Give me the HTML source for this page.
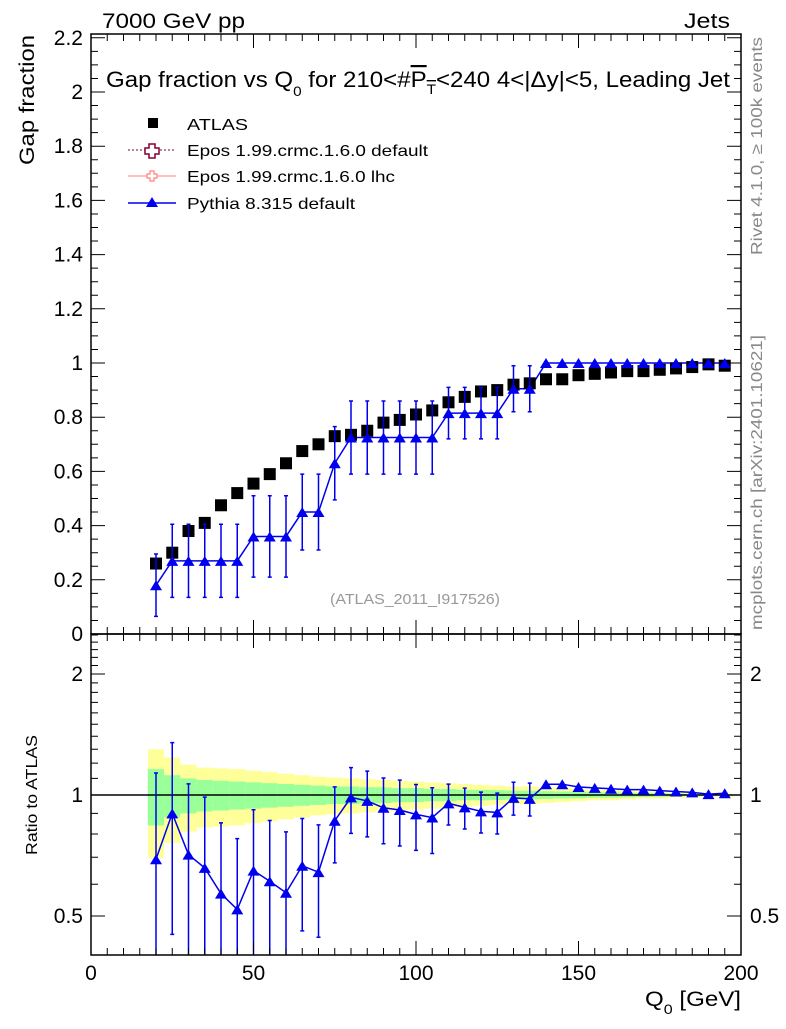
<!DOCTYPE html>
<html><head><meta charset="utf-8"><style>
body{margin:0;background:#fff;}
svg text{font-family:"Liberation Sans",sans-serif;}
</style></head><body>
<svg id="c" width="786" height="1024" viewBox="0 0 786 1024" xmlns="http://www.w3.org/2000/svg">
<g id="bands"></g>
<g id="marks"></g>
<g id="axes"></g>
<text x="102" y="28" font-size="21" textLength="143" lengthAdjust="spacingAndGlyphs">7000 GeV pp</text>
<text x="684" y="28" font-size="21" textLength="46" lengthAdjust="spacingAndGlyphs">Jets</text>
<text x="106" y="87" font-size="22" textLength="624" lengthAdjust="spacingAndGlyphs">Gap fraction vs Q<tspan font-size="14" dy="9">0</tspan><tspan dy="-9"> for 210&lt;#</tspan><tspan text-decoration="overline">P<tspan font-size="14" dy="7">T</tspan></tspan><tspan dy="-7">&lt;240  4&lt;|Δy|&lt;5, Leading Jet</tspan></text>
<g font-size="16">
<rect x="148" y="118" width="10" height="10" fill="#000"/>
<text x="187" y="130" textLength="61" lengthAdjust="spacingAndGlyphs">ATLAS</text>
<line x1="128" y1="150" x2="176" y2="150" stroke="#800030" stroke-dasharray="2,2"/>
<path d="M149 144h6v4h4v6h-4v4h-6v-4h-4v-6h4z" fill="#fff" stroke="#800030" stroke-width="1.5"/>
<text x="187" y="156" textLength="241" lengthAdjust="spacingAndGlyphs">Epos 1.99.crmc.1.6.0 default</text>
<line x1="128" y1="176" x2="176" y2="176" stroke="#ff8080"/>
<path d="M150 171h4v3h3v4h-3v3h-4v-3h-3v-4h3z" fill="#fff" stroke="#ff8080" stroke-width="1.2"/>
<text x="187" y="182" textLength="208" lengthAdjust="spacingAndGlyphs">Epos 1.99.crmc.1.6.0 lhc</text>
<line x1="128" y1="203" x2="176" y2="203" stroke="#0000ee" stroke-width="1.5"/>
<path d="M152 197l6 10h-12z" fill="#0000ee"/>
<text x="187" y="209" textLength="168" lengthAdjust="spacingAndGlyphs">Pythia 8.315 default</text>
</g>
<text x="330" y="604" font-size="15" fill="#999" textLength="170" lengthAdjust="spacingAndGlyphs">(ATLAS_2011_I917526)</text>
<text transform="translate(34,165) rotate(-90)" font-size="21" textLength="130" lengthAdjust="spacingAndGlyphs">Gap fraction</text>
<text transform="translate(37,855) rotate(-90)" font-size="16" textLength="120" lengthAdjust="spacingAndGlyphs">Ratio to ATLAS</text>
<text x="645" y="1006" font-size="21" textLength="96" lengthAdjust="spacingAndGlyphs">Q<tspan font-size="14" dy="8">0</tspan><tspan dy="-8"> [GeV]</tspan></text>
<text transform="translate(762,255) rotate(-90)" font-size="16" fill="#888" textLength="218" lengthAdjust="spacingAndGlyphs">Rivet 4.1.0, ≥ 100k events</text>
<text transform="translate(762,630) rotate(-90)" font-size="16" fill="#888" textLength="295" lengthAdjust="spacingAndGlyphs">mcplots.cern.ch [arXiv:2401.10621]</text>
</svg>
<script>
const xs=[20,25,30,35,40,45,50,55,60,65,70,75,80,85,90,95,100,105,110,115,120,125,130,135,140,145,150,155,160,165,170,175,180,185,190,195];
const atlas=[0.26,0.30,0.38,0.41,0.475,0.52,0.555,0.59,0.63,0.675,0.70,0.73,0.735,0.75,0.78,0.79,0.81,0.825,0.855,0.875,0.895,0.90,0.92,0.925,0.94,0.94,0.955,0.96,0.965,0.97,0.97,0.975,0.98,0.985,0.995,0.99];
const pythia=[0.18,0.27,0.27,0.27,0.27,0.27,0.36,0.36,0.36,0.45,0.45,0.63,0.725,0.725,0.725,0.725,0.725,0.725,0.815,0.815,0.815,0.815,0.905,0.905,1,1,1,1,1,1,1,1,1,1,1,1];
const pythiaErr=[0.115,0.135,0.135,0.135,0.135,0.135,0.15,0.15,0.15,0.14,0.14,0.135,0.135,0.135,0.135,0.135,0.135,0.135,0.095,0.095,0.095,0.095,0.085,0.085,0,0,0,0,0,0,0,0,0,0,0,0];
const yellowRel=[0.30,0.24,0.19,0.17,0.165,0.16,0.15,0.14,0.13,0.12,0.11,0.105,0.10,0.095,0.09,0.085,0.08,0.075,0.07,0.065,0.06,0.055,0.05,0.05,0.045,0.04,0.035,0.03,0.03,0.025,0.02,0.02,0.015,0.012,0.01,0.008];
const greenRel=[0.16,0.12,0.10,0.09,0.085,0.08,0.075,0.07,0.065,0.06,0.055,0.05,0.05,0.045,0.045,0.04,0.04,0.035,0.035,0.03,0.03,0.028,0.025,0.025,0.022,0.02,0.018,0.016,0.015,0.013,0.011,0.01,0.008,0.006,0.005,0.004];
const xTicks=[0,50,100,150,200];
const yTicks=[0,0.2,0.4,0.6,0.8,1,1.2,1.4,1.6,1.8,2,2.2];
const rTicks=[0.5,1,2];
const NS='http://www.w3.org/2000/svg';
const X=v=>91+v*3.25;
const Y=v=>634-v*271;
const R=v=>795-174.6*Math.log(v);
const RT=633,RB=955;
function el(p,t,a){const e=document.createElementNS(NS,t);for(const k in a)e.setAttribute(k,a[k]);p.appendChild(e);return e;}
const bands=document.getElementById('bands'),marks=document.getElementById('marks'),axes=document.getElementById('axes');
xs.forEach((x,i)=>{
 let e=el(bands,'rect',{x:X(x-2.5),width:3.25*5,y:R(1+yellowRel[i]),height:R(1-yellowRel[i])-R(1+yellowRel[i]),fill:'#ffff99'});
 
 
 e=el(bands,'rect',{x:X(x-2.5),width:3.25*5,y:R(1+greenRel[i]),height:R(1-greenRel[i])-R(1+greenRel[i]),fill:'#99ff99'});
 
 
});
let l1=el(marks,'line',{x1:91,x2:741,y1:R(1),y2:R(1),stroke:'#000','stroke-width':1.5});


const cl=(v,a,b)=>Math.max(a,Math.min(b,v));
function tri(p,cx,cy,name){const e=el(p,'path',{d:`M${cx} ${cy-6}l6 10h-12z`,fill:'#0000ee'});}
let pts=xs.map((x,i)=>X(x)+','+Y(pythia[i])).join(' ');
let pl=el(marks,'polyline',{points:pts,fill:'none',stroke:'#0000ee','stroke-width':1.5});


let rpts=xs.map((x,i)=>X(x)+','+cl(R(pythia[i]/atlas[i]),RT,RB)).join(' ');
let rl=el(marks,'polyline',{points:rpts,fill:'none',stroke:'#0000ee','stroke-width':1.5});


xs.forEach((x,i)=>{
 const cx=X(x);
 const s=el(marks,'rect',{x:cx-6,y:Y(atlas[i])-6,width:12,height:12,fill:'#000'});
 
 
 if(pythiaErr[i]>0){
  const t=Y(pythia[i]+pythiaErr[i]),b=Y(pythia[i]-pythiaErr[i]);
  const e=el(marks,'path',{d:`M${cx} ${t}V${b}M${cx-2} ${t}h4M${cx-2} ${b}h4`,stroke:'#0000ee','stroke-width':1.5,fill:'none'});
  
  
  const rt=R((pythia[i]+pythiaErr[i])/atlas[i]),rbv=(pythia[i]-pythiaErr[i])/atlas[i];
  const rb=rbv>0?cl(R(rbv),RT,RB):RB;
  const e2=el(marks,'path',{d:`M${cx} ${rt}V${rb}M${cx-2} ${rt}h4`+(rb<RB?`M${cx-2} ${rb}h4`:''),stroke:'#0000ee','stroke-width':1.5,fill:'none'});
  
  
 }
 tri(marks,cx,Y(pythia[i])+1,'pythia-point');
 tri(marks,cx,R(pythia[i]/atlas[i])+1,'pythia-ratio-point');
});
let f1=el(axes,'rect',{x:91,y:34,width:650,height:600,fill:'none',stroke:'#000','stroke-width':1.5});


let f2=el(axes,'rect',{x:91,y:634,width:650,height:321,fill:'none',stroke:'#000','stroke-width':1.5});


let d='';
for(let v=0;v<=200;v+=5){const L=v%50===0?14:7;const x=X(v);d+=`M${x} 955v-${L}M${x} 634v-${L}M${x} 34v${L}M${x} 634v${L}`;}
for(let k=0;k<=44;k++){const v=k*0.05;const L=(k%4===0)?14:7;const y=Y(v);d+=`M91 ${y}h${L}M741 ${y}h-${L}`;}
[0.4,0.5,0.6,0.7,0.8,0.9,1,1.1,1.2,1.3,1.4,1.5,1.6,1.7,1.8,1.9,2,2.1,2.2,2.3,2.4,2.5].forEach(v=>{const y=R(v);const L=(v===0.5||v===1||v===2)?14:7;d+=`M91 ${y}h${L}M741 ${y}h-${L}`;});
let tk=el(axes,'path',{d:d,stroke:'#000','stroke-width':1,fill:'none'});


xTicks.forEach(v=>{const t=el(axes,'text',{x:X(v),y:980,'font-size':21,'text-anchor':'middle'});t.textContent=v;
 
 });
yTicks.forEach(v=>{const t=el(axes,'text',{x:83,y:Y(v)+7,'font-size':21,'text-anchor':'end'});t.textContent=String(Math.round(v*10)/10);
 
 });
rTicks.forEach(v=>{const t=el(axes,'text',{x:83,y:R(v)+7,'font-size':21,'text-anchor':'end'});t.textContent=v;
 
 
 const t2=el(axes,'text',{x:750,y:R(v)+7,'font-size':21});t2.textContent=v;
 
 });
</script>
</body></html>
